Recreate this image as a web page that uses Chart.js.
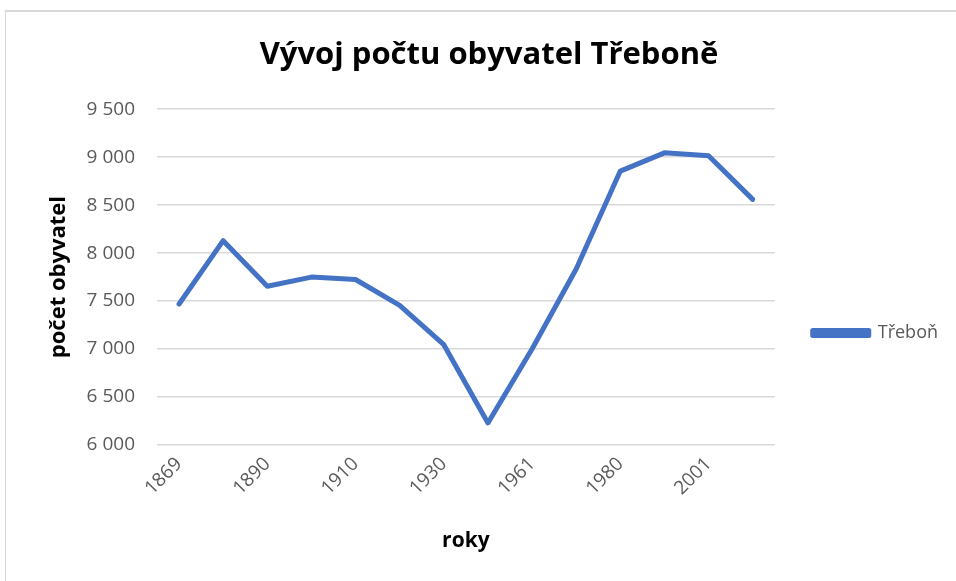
<!DOCTYPE html>
<html>
<head>
<meta charset="utf-8">
<script src="https://cdn.jsdelivr.net/npm/chart.js@4/dist/chart.umd.min.js"></script>
<style>
html,body{margin:0;padding:0;background:#fff;}
#wrap{position:absolute;left:5px;top:10px;width:950px;height:570px;border-top:2px solid #d9d9d9;border-left:1px solid #d9d9d9;}
canvas{display:block;}
</style>
</head>
<body>
<div id="wrap"><canvas id="c" width="950" height="570"></canvas></div>
<script>
const years = ['1869','1880','1890','1900','1910','1921','1930','1950','1961','1970','1980','1991','2001','2011'];
const population = [7470, 8130, 7655, 7750, 7725, 7455, 7045, 6230, 7000, 7835, 8855, 9045, 9015, 8560];
const seriesName = 'Třeboň';
const chartTitle = 'Vývoj počtu obyvatel Třeboně';
const xTitle = 'roky';
const yTitle = 'počet obyvatel';
const yMin = 6000, yMax = 9500, yStep = 500;

const fmt = v => String(v).replace(/\B(?=(\d{3})+(?!\d))/g, '\u00a0');
const FONT = "'Open Sans', 'Liberation Sans', sans-serif";

new Chart(document.getElementById('c'), {
  type: 'line',
  data: {
    labels: years,
    datasets: [{
      label: seriesName,
      data: population,
      borderColor: '#4472C4',
      backgroundColor: '#4472C4',
      borderWidth: 5,
      pointRadius: 0,
      tension: 0,
      borderCapStyle: 'round',
      borderJoinStyle: 'round'
    }]
  },
  options: {
    responsive: false,
    animation: false,
    layout: { padding: { left: 24, right: 8, top: 0, bottom: 0 } },
    plugins: {
      title: {
        display: true,
        text: chartTitle,
        color: '#000',
        font: { family: FONT, size: 31, weight: 'bold' },
        padding: { top: 25, bottom: 35 }
      },
      legend: {
        position: 'right',
        title: {
          display: true,
          text: ' ',
          font: { size: 10 },
          padding: 30
        },
        labels: {
          color: '#595959',
          font: { family: FONT, size: 18 },
          boxWidth: 56,
          boxHeight: 5,
          padding: 38
        }
      },
      tooltip: { enabled: false }
    },
    scales: {
      x: {
        offset: true,
        grid: { display: false },
        border: { display: false },
        ticks: {
          color: '#595959',
          font: { family: FONT, size: 19 },
          maxRotation: 45,
          minRotation: 45,
          autoSkip: false,
          padding: 0,
          callback: function(v, i) { return i % 2 === 0 ? years[i] : ''; }
        },
        title: {
          display: true,
          text: xTitle,
          color: '#000',
          font: { family: FONT, size: 21, weight: 'bold' },
          padding: { top: 0, bottom: 28 }
        },
        afterFit: s => { s.height = 137; }
      },
      y: {
        min: yMin,
        max: yMax,
        grid: { color: '#d9d9d9', lineWidth: 1.5, drawTicks: false },
        border: { display: false },
        ticks: {
          stepSize: yStep,
          color: '#595959',
          font: { family: FONT, size: 19 },
          padding: 22,
          callback: v => fmt(v)
        },
        title: {
          display: true,
          text: yTitle,
          color: '#000',
          font: { family: FONT, size: 22, weight: 'bold' },
          padding: { top: 16, bottom: 0 }
        },
        afterFit: s => { s.width = 127; }
      }
    }
  }
});
</script>
</body>
</html>
